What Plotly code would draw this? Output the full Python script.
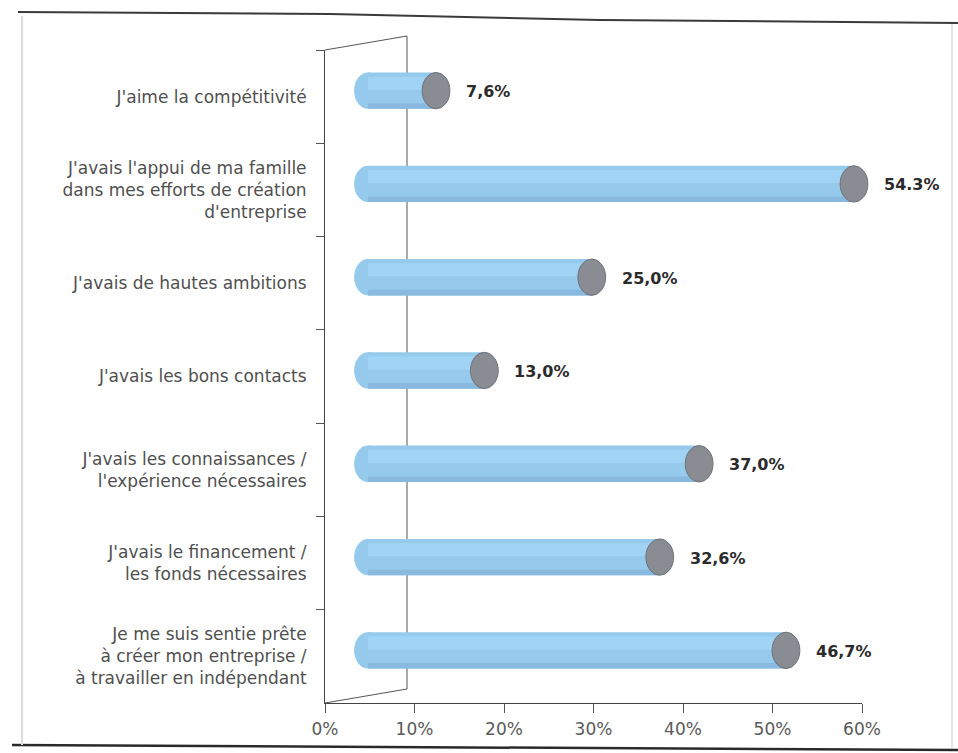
import plotly.graph_objects as go

# ---- data -------------------------------------------------------------
categories = [
    "J'aime la compétitivité",
    "J'avais l'appui de ma famille<br>dans mes efforts de création<br>d'entreprise",
    "J'avais de hautes ambitions",
    "J'avais les bons contacts",
    "J'avais les connaissances /<br>l'expérience nécessaires",
    "J'avais le financement /<br>les fonds nécessaires",
    "Je me suis sentie prête<br>à créer mon entreprise /<br>à travailler en indépendant",
]
values = [7.6, 54.3, 25.0, 13.0, 37.0, 32.6, 46.7]
value_labels = ["7,6%", "54.3%", "25,0%", "13,0%", "37,0%", "32,6%", "46,7%"]
x_ticks = [0, 10, 20, 30, 40, 50, 60]

# ---- geometry (pixels of the 958 x 753 page) ------------------------
W, H = 958, 753
X0, X60 = 325, 862          # front axis: 0 % and 60 %
Y_TOP, Y_BOT = 50, 703      # front wall
DX, DY = 82, -14            # depth of the pseudo-3D box
BX, BY = 43, -6             # cylinders sit half-way in depth
PX_PER_PCT = (X60 - X0) / 60
LEFT_PAD = 4                # % of room left of zero for the rounded base

def px(x):
    return x / W

def py(y):
    return 1 - y / H

BODY = "#96caed"
HIGHLIGHT = "#a1d3f4"
SHADOW = "#89b9de"
CAP = "#898c92"
CAP_EDGE = "#6f7278"
BAR_W = 0.39
CAP_W = 3.1                  # cap ellipse width in % units

font_fam = "DejaVu Sans, Arial, sans-serif"

fig = go.Figure()

# invisible trace so the front category axis has its labels
fig.add_trace(go.Scatter(x=[0] * len(categories), y=categories, mode="markers",
                         marker=dict(opacity=0), hoverinfo="skip",
                         showlegend=False, xaxis="x", yaxis="y"))

# cylinder bodies
fig.add_trace(go.Bar(x=values, y=categories, orientation="h", base=0,
                     width=BAR_W, offset=-BAR_W / 2,
                     marker=dict(color=BODY, line=dict(width=0)),
                     showlegend=False, hoverinfo="skip",
                     xaxis="x2", yaxis="y2"))
# upper highlight band
fig.add_trace(go.Bar(x=values, y=categories, orientation="h", base=0,
                     width=0.14, offset=-0.15,
                     marker=dict(color=HIGHLIGHT, line=dict(width=0)),
                     showlegend=False, hoverinfo="skip",
                     xaxis="x2", yaxis="y2"))
# lower shaded band
fig.add_trace(go.Bar(x=values, y=categories, orientation="h", base=0,
                     width=0.06, offset=BAR_W / 2 - 0.06,
                     marker=dict(color=SHADOW, line=dict(width=0)),
                     showlegend=False, hoverinfo="skip",
                     xaxis="x2", yaxis="y2"))

shapes = []
annotations = []
for i, (v, lab) in enumerate(zip(values, value_labels)):
    # rounded base of the cylinder
    shapes.append(dict(type="circle", xref="x2", yref="y2", layer="below",
                       x0=-CAP_W / 2, x1=CAP_W / 2,
                       y0=i - BAR_W / 2, y1=i + BAR_W / 2,
                       fillcolor=BODY, line=dict(width=0)))
    # grey end cap
    shapes.append(dict(type="circle", xref="x2", yref="y2", layer="above",
                       x0=v - CAP_W / 2, x1=v + CAP_W / 2,
                       y0=i - BAR_W / 2, y1=i + BAR_W / 2,
                       fillcolor=CAP, line=dict(color=CAP_EDGE, width=1)))
    annotations.append(dict(x=v, y=categories[i], xref="x2", yref="y2",
                            text=lab, showarrow=False, xanchor="left",
                            xshift=28, yshift=-1,
                            font=dict(family=font_fam, size=16, color="#2b2b2b",
                                      weight="bold")))

# pseudo-3D box edges
edge = dict(color="#555555", width=1)
shapes += [
    dict(type="line", xref="paper", yref="paper", layer="below",
         x0=px(X0 + DX), y0=py(Y_TOP + DY), x1=px(X0 + DX), y1=py(Y_BOT + DY), line=edge),
    dict(type="line", xref="paper", yref="paper", layer="below",
         x0=px(X0), y0=py(Y_TOP), x1=px(X0 + DX), y1=py(Y_TOP + DY), line=edge),
    dict(type="line", xref="paper", yref="paper", layer="below",
         x0=px(X0), y0=py(Y_BOT), x1=px(X0 + DX), y1=py(Y_BOT + DY), line=edge),
]

# page border
shapes += [
    dict(type="path", xref="paper", yref="paper",
         path=f"M {px(18)},{py(12)} L {px(330)},{py(14)} L {px(600)},{py(20)} L {px(958)},{py(23)}",
         line=dict(color="#3a3a3a", width=2)),
    dict(type="line", xref="paper", yref="paper",
         x0=px(12), y0=py(745), x1=px(958), y1=py(750),
         line=dict(color="#2a2a2a", width=2.5)),
    dict(type="line", xref="paper", yref="paper",
         x0=px(22), y0=py(16), x1=px(22), y1=py(745),
         line=dict(color="#dcdcdc", width=2)),
    dict(type="line", xref="paper", yref="paper",
         x0=px(952), y0=py(24), x1=px(952), y1=py(748),
         line=dict(color="#e6e6e6", width=2)),
]

n = len(categories)
fig.update_layout(
    template="none",
    autosize=False,
    width=W, height=H,
    margin=dict(l=0, r=0, t=0, b=0, pad=0),
    paper_bgcolor="white",
    plot_bgcolor="rgba(0,0,0,0)",
    barmode="overlay",
    showlegend=False,
    font=dict(family=font_fam, color="#555555"),
    xaxis=dict(domain=[px(X0), px(X60)], range=[0, 60], anchor="y",
               automargin=False,
               tickvals=x_ticks, ticktext=[f"{t}%" for t in x_ticks],
               ticks="outside", ticklen=9, tickcolor="#555555",
               showline=True, linecolor="#444444", linewidth=1,
               showgrid=False, zeroline=False, ticklabelstandoff=2,
               tickfont=dict(family=font_fam, size=17, color="#5a5a5a")),
    yaxis=dict(domain=[py(Y_BOT), py(Y_TOP)], type="category",
               automargin=False,
               categoryorder="array", categoryarray=categories,
               range=[n - 0.5, -0.5], anchor="x",
               tickson="boundaries", ticks="outside", ticklen=8,
               tickcolor="#555555", showline=True, linecolor="#444444",
               linewidth=1, showgrid=False, ticklabelstandoff=14,
               tickfont=dict(family=font_fam, size=17, color="#4f4f4f")),
    xaxis2=dict(domain=[px(X0 + BX - LEFT_PAD * PX_PER_PCT), px(X60 + BX)],
                range=[-LEFT_PAD, 60], anchor="y2", automargin=False,
                visible=False, showgrid=False, zeroline=False),
    yaxis2=dict(domain=[py(Y_BOT + BY), py(Y_TOP + BY)], type="category",
                categoryorder="array", categoryarray=categories,
                range=[n - 0.5, -0.5], anchor="x2", visible=False,
                automargin=False, showgrid=False),
    shapes=shapes,
    annotations=annotations,
)

fig.write_html("out.html")
